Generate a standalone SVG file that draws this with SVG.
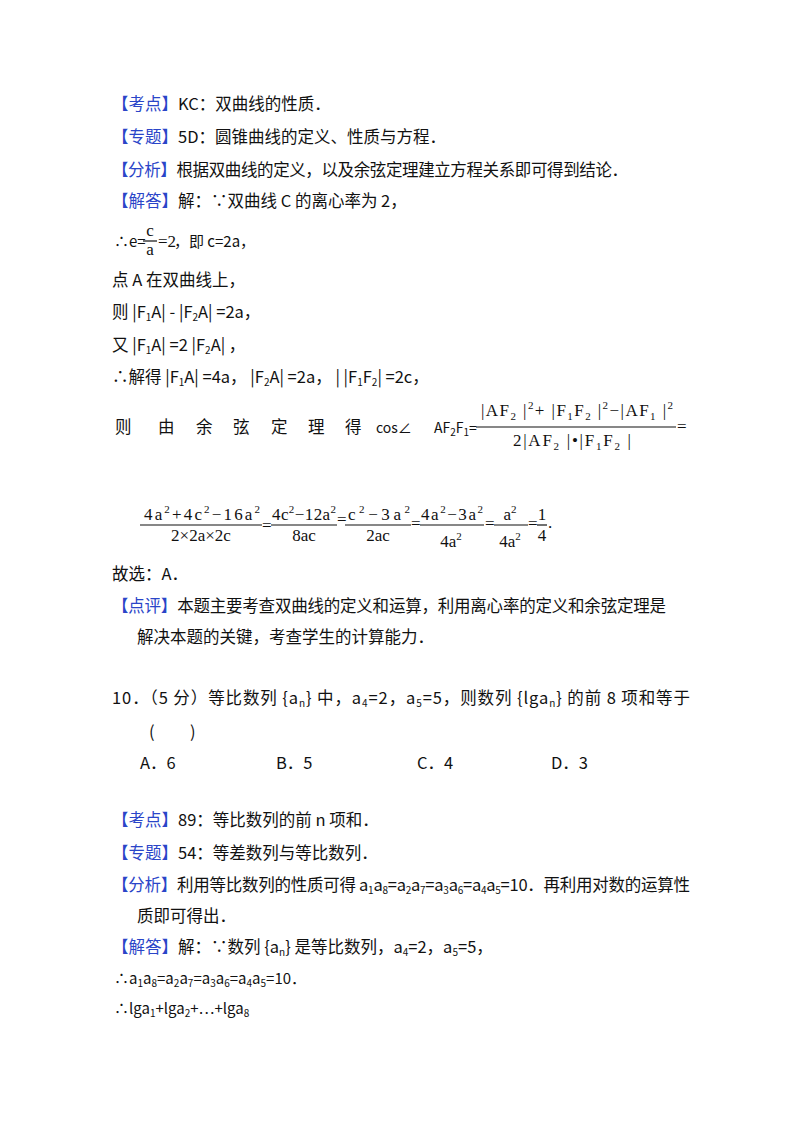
<svg xmlns="http://www.w3.org/2000/svg" width="800" height="1132" viewBox="0 0 800 1132">
<style>
text{font-family:"Noto Sans CJK SC","Noto Sans",sans-serif;font-size:16.5px;fill:#111}
.b{fill:#2a45c8}
.s{font-size:10px}
.m{font-family:"Liberation Serif",serif;font-size:17px}
.ms{font-family:"Liberation Serif",serif;font-size:11px}
line{stroke:#111;stroke-width:1.2}
</style>
<rect width="800" height="1132" fill="#fff"/>
<text x="112" y="110"><tspan class="b">【考点】</tspan>KC：双曲线的性质．</text>
<text x="112" y="143"><tspan class="b">【专题】</tspan>5D：圆锥曲线的定义、性质与方程．</text>
<text x="112" y="176" textLength="516"><tspan class="b">【分析】</tspan>根据双曲线的定义，以及余弦定理建立方程关系即可得到结论．</text>
<text x="112" y="207"><tspan class="b">【解答】</tspan>解：∵双曲线 C 的离心率为 2，</text>
<text x="114" y="247" style="font-size:15px">∴e=</text>
<text x="150" y="236" class="m" text-anchor="middle">c</text>
<line x1="143" y1="241" x2="157" y2="241"/>
<text x="150" y="255" class="m" text-anchor="middle">a</text>
<text x="158" y="247" class="m">=2</text>
<text x="174" y="247" style="font-size:15px">，即 c=2a，</text>
<text x="112" y="286">点 A 在双曲线上，</text>
<text x="112" y="318">则 |F<tspan class="s" dy="3">1</tspan><tspan dy="-3">A| - |F</tspan><tspan class="s" dy="3">2</tspan><tspan dy="-3">A| =2a，</tspan></text>
<text x="112" y="351">又 |F<tspan class="s" dy="3">1</tspan><tspan dy="-3">A| =2 |F</tspan><tspan class="s" dy="3">2</tspan><tspan dy="-3">A| ，</tspan></text>
<text x="112" y="383">∴解得 |F<tspan class="s" dy="3">1</tspan><tspan dy="-3">A| =4a， |F</tspan><tspan class="s" dy="3">2</tspan><tspan dy="-3">A| =2a， | |F</tspan><tspan class="s" dy="3">1</tspan><tspan dy="-3">F</tspan><tspan class="s" dy="3">2</tspan><tspan dy="-3">| =2c，</tspan></text>
<g>
<text x="115" y="433">则</text><text x="158" y="433">由</text><text x="196" y="433">余</text><text x="233" y="433">弦</text><text x="271" y="433">定</text><text x="308" y="433">理</text><text x="345" y="433">得</text>
<text x="376" y="433" style="font-size:14px">cos∠</text>
<text x="434" y="433" style="font-size:14px">AF<tspan class="s" dy="3">2</tspan><tspan dy="-3">F</tspan><tspan class="s" dy="3">1</tspan><tspan dy="-3">=</tspan></text>
<text x="481" y="416" class="m" textLength="192">|AF<tspan class="ms" dy="4">2</tspan><tspan dy="-4"> |</tspan><tspan class="ms" dy="-7">2</tspan><tspan dy="7">+ |F</tspan><tspan class="ms" dy="4">1</tspan><tspan dy="-4">F</tspan><tspan class="ms" dy="4">2</tspan><tspan dy="-4"> |</tspan><tspan class="ms" dy="-7">2</tspan><tspan dy="7">−|AF</tspan><tspan class="ms" dy="4">1</tspan><tspan dy="-4"> |</tspan><tspan class="ms" dy="-7">2</tspan></text>
<line x1="476" y1="427" x2="676" y2="427"/>
<text x="513" y="446" class="m" textLength="118">2|AF<tspan class="ms" dy="4">2</tspan><tspan dy="-4"> |•|F</tspan><tspan class="ms" dy="4">1</tspan><tspan dy="-4">F</tspan><tspan class="ms" dy="4">2</tspan><tspan dy="-4"> |</tspan></text>
<text x="677" y="432" class="m">=</text>
</g>
<g>
<text x="144" y="520" class="m" textLength="116">4a<tspan class="ms" dy="-7">2</tspan><tspan dy="7">+4c</tspan><tspan class="ms" dy="-7">2</tspan><tspan dy="7">−16a</tspan><tspan class="ms" dy="-7">2</tspan></text>
<line x1="140" y1="525" x2="262" y2="525"/>
<text x="201" y="541" class="m" text-anchor="middle">2×2a×2c</text>
<text x="262" y="531" class="m">=</text>
<text x="272" y="520" class="m" textLength="64">4c<tspan class="ms" dy="-7">2</tspan><tspan dy="7">−12a</tspan><tspan class="ms" dy="-7">2</tspan></text>
<line x1="271" y1="525" x2="337" y2="525"/>
<text x="304" y="541" class="m" text-anchor="middle">8ac</text>
<text x="337" y="525" class="m">=</text>
<text x="348" y="520" class="m" textLength="62">c<tspan class="ms" dy="-7">2</tspan><tspan dy="7">−3a</tspan><tspan class="ms" dy="-7">2</tspan></text>
<line x1="345" y1="525" x2="411" y2="525"/>
<text x="378" y="541" class="m" text-anchor="middle">2ac</text>
<text x="411" y="529" class="m">=</text>
<text x="421" y="520" class="m" textLength="62">4a<tspan class="ms" dy="-7">2</tspan><tspan dy="7">−3a</tspan><tspan class="ms" dy="-7">2</tspan></text>
<line x1="420" y1="525" x2="484" y2="525"/>
<text x="451" y="547" class="m" text-anchor="middle">4a<tspan class="ms" dy="-7">2</tspan></text>
<text x="485" y="529" class="m">=</text>
<text x="510" y="520" class="m" text-anchor="middle">a<tspan class="ms" dy="-7">2</tspan></text>
<line x1="494" y1="525" x2="528" y2="525"/>
<text x="510" y="547" class="m" text-anchor="middle">4a<tspan class="ms" dy="-7">2</tspan></text>
<text x="528" y="529" class="m">=</text>
<text x="542" y="520" class="m" text-anchor="middle">1</text>
<line x1="537" y1="525" x2="547" y2="525"/>
<text x="542" y="541" class="m" text-anchor="middle">4</text>
<text x="548" y="528" class="m">.</text>
</g>
<text x="112" y="580">故选：A．</text>
<text x="112" y="612" textLength="554"><tspan class="b">【点评】</tspan>本题主要考查双曲线的定义和运算，利用离心率的定义和余弦定理是</text>
<text x="137" y="643">解决本题的关键，考查学生的计算能力．</text>
<text x="112" y="704" textLength="578">10．（5 分）等比数列 {a<tspan class="s" dy="3">n</tspan><tspan dy="-3">} 中，a</tspan><tspan class="s" dy="3">4</tspan><tspan dy="-3">=2，a</tspan><tspan class="s" dy="3">5</tspan><tspan dy="-3">=5，则数列 {lga</tspan><tspan class="s" dy="3">n</tspan><tspan dy="-3">} 的前 8 项和等于</tspan></text>
<text x="149" y="738">(</text><text x="190" y="738">)</text>
<text x="140" y="769">A．6</text>
<text x="276" y="769">B．5</text>
<text x="417" y="769">C．4</text>
<text x="551" y="769">D．3</text>
<text x="112" y="826"><tspan class="b">【考点】</tspan>89：等比数列的前 n 项和．</text>
<text x="112" y="859"><tspan class="b">【专题】</tspan>54：等差数列与等比数列．</text>
<text x="112" y="891" textLength="578"><tspan class="b">【分析】</tspan>利用等比数列的性质可得 a<tspan class="s" dy="3">1</tspan><tspan dy="-3">a</tspan><tspan class="s" dy="3">8</tspan><tspan dy="-3">=a</tspan><tspan class="s" dy="3">2</tspan><tspan dy="-3">a</tspan><tspan class="s" dy="3">7</tspan><tspan dy="-3">=a</tspan><tspan class="s" dy="3">3</tspan><tspan dy="-3">a</tspan><tspan class="s" dy="3">6</tspan><tspan dy="-3">=a</tspan><tspan class="s" dy="3">4</tspan><tspan dy="-3">a</tspan><tspan class="s" dy="3">5</tspan><tspan dy="-3">=10．再利用对数的运算性</tspan></text>
<text x="137" y="922">质即可得出．</text>
<text x="112" y="953"><tspan class="b">【解答】</tspan>解：∵数列 {a<tspan class="s" dy="3">n</tspan><tspan dy="-3">} 是等比数列，a</tspan><tspan class="s" dy="3">4</tspan><tspan dy="-3">=2，a</tspan><tspan class="s" dy="3">5</tspan><tspan dy="-3">=5，</tspan></text>
<text x="114" y="984" style="font-size:15px">∴a<tspan class="s" dy="3">1</tspan><tspan dy="-3">a</tspan><tspan class="s" dy="3">8</tspan><tspan dy="-3">=a</tspan><tspan class="s" dy="3">2</tspan><tspan dy="-3">a</tspan><tspan class="s" dy="3">7</tspan><tspan dy="-3">=a</tspan><tspan class="s" dy="3">3</tspan><tspan dy="-3">a</tspan><tspan class="s" dy="3">6</tspan><tspan dy="-3">=a</tspan><tspan class="s" dy="3">4</tspan><tspan dy="-3">a</tspan><tspan class="s" dy="3">5</tspan><tspan dy="-3">=10．</tspan></text>
<text x="114" y="1014" style="font-size:15px">∴lga<tspan class="s" dy="3">1</tspan><tspan dy="-3">+lga</tspan><tspan class="s" dy="3">2</tspan><tspan dy="-3">+…+lga</tspan><tspan class="s" dy="3">8</tspan></text>
</svg>
